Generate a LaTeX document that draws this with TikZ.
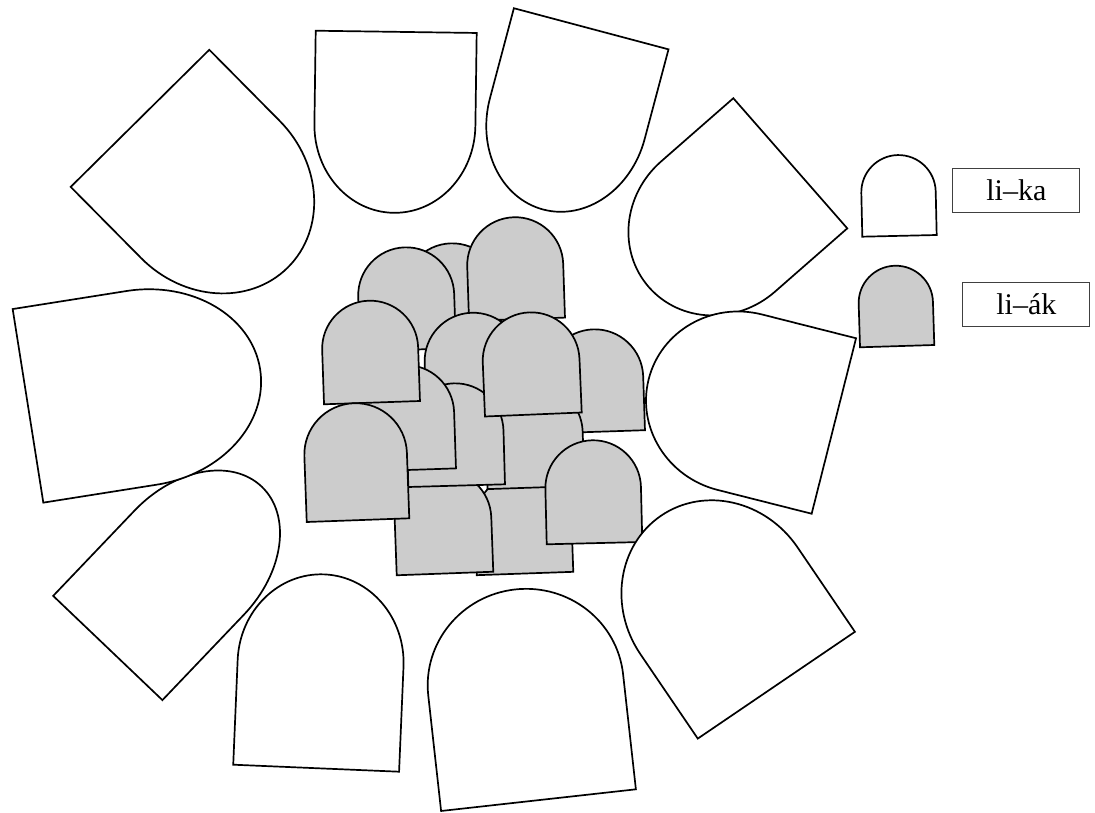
\documentclass[tikz,border=0pt]{standalone}
\usepackage{fontspec}
\setmainfont{Liberation Serif}

\begin{document}
\begin{tikzpicture}[x=1pt, y=1pt,
    lapide/.style={line width=1.7pt},
    etichetta/.style={draw=bordo, line width=1pt, inner sep=0pt,
        minimum width=127pt, minimum height=44pt,
        font=\fontsize{30}{36}\selectfont}]
\definecolor{grigio}{RGB}{204,204,204}
\definecolor{bordo}{RGB}{64,64,64}

\useasboundingbox (0,0) rectangle (1095,812);

% ======================================================
% LAPIDI GRIGIE (centro)
% ======================================================

% x/y della base, rotazione, larghezza, lato dritto
\foreach \x/\y/\r/\w/\s in {
    454/466.7/1.9/96/54,
    517/492.8/1.9/96/54,
    408/462.2/1.9/96/54.5,
    474.9/397.3/1.9/97/53.5,
    596.5/380.2/1.9/97/54,
    525/238.5/2/96.6/51.7,
    445/238.5/2.1/96.6/54.7,
    536/324.5/1.9/97/54.5,
    456.65/326.35/1.6/96.7/54,
    407.5/342/1.9/97/56.5,
    372/409.35/1.97/96/54,
    533.35/397.5/2.37/96.8/53.8,
    358/291.85/2.07/102.6/65.7,
    594.5/268.85/1.38/95.6/55.1} {
    \begin{scope}[shift={(\x,\y)}, rotate=\r]
    \filldraw[lapide, fill=grigio]
        (-\w/2,0) -- (-\w/2,\s)
        arc[start angle=180, end angle=0, x radius={\w/2}, y radius={\w/2}]
        -- (\w/2,0) -- cycle;
    \end{scope}
}

% ======================================================
% LAPIDI BIANCHE (anello)
% ======================================================

% x/y della base, rotazione, larghezza, lato dritto, altezza arco
\foreach \x/\y/\r/\w/\s/\a in {
    140/693.65/-135.3/195/100/110,
    396.2/780.15/-180.8/161/93/88,
    591.2/783.2/165.1/160/93/94,
    790.3/648.7/131.2/173/96/92,
    833.85/386/75.8/181/97/94,
    776.35/126.8/34.2/190/102/103,
    538.5/11.85/6.35/196/116/96,
    316.15/43.8/-2.42/166/105/89,
    107.8/164/-43.65/151/118/105,
    28/406.15/-81/196/115/120} {
    \begin{scope}[shift={(\x,\y)}, rotate=\r]
    \filldraw[lapide, fill=white]
        (-\w/2,0) -- (-\w/2,\s)
        arc[start angle=180, end angle=0, x radius={\w/2}, y radius=\a]
        -- (\w/2,0) -- cycle;
    \end{scope}
}

% ======================================================
% LEGENDA
% ======================================================

\begin{scope}[shift={(899.5,576.15)}, rotate=1.3]
\filldraw[lapide, fill=white]
    (-37.2,0) -- (-37.2,43.6) arc[start angle=180, end angle=0, radius=37.2]
    -- (37.2,0) -- cycle;
\end{scope}

\begin{scope}[shift={(897.15,465.85)}, rotate=1.77]
\filldraw[lapide, fill=grigio]
    (-37.15,0) -- (-37.15,43.3) arc[start angle=180, end angle=0, radius=37.15]
    -- (37.15,0) -- cycle;
\end{scope}

\node[etichetta] (ka) at (1016.35,621.5) {li–ka};
\node[etichetta] (ak) at (1026.35,507.85) {li–ák};

\end{tikzpicture}
\end{document}
